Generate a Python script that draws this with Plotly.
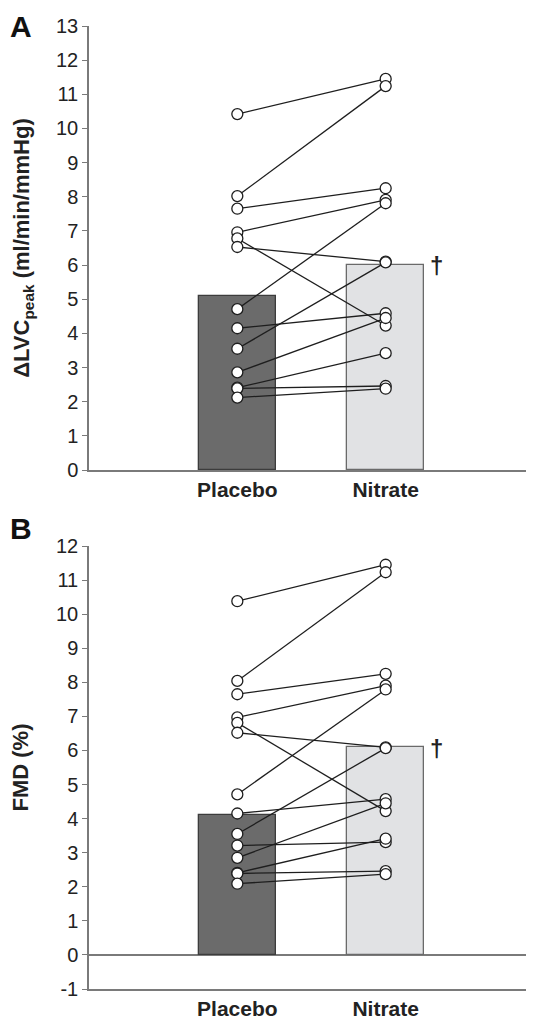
import plotly.graph_objects as go

# page has an 8px body margin, so the figure is drawn 8px smaller and offset
OFF = 8
W, H = 534 - OFF, 1020 - OFF

categories = ["Placebo", "Nitrate"]

# Panel A: ΔLVCpeak (ml/min/mmHg)
bar_a = [5.10, 6.01]
placebo_a = [10.42, 8.02, 7.65, 6.96, 6.78, 6.53, 4.71, 4.15, 3.55, 2.86, 2.41, 2.39, 2.12]
nitrate_a = [11.45, 11.24, 8.25, 7.91, 4.23, 6.10, 7.81, 4.59, 6.08, 4.45, 3.42, 2.46, 2.38]

# Panel B: FMD (%)
bar_b = [4.11, 6.09]
placebo_b = [10.38, 8.04, 7.65, 6.97, 6.81, 6.52, 4.71, 4.15, 3.55, 3.21, 2.85, 2.41, 2.39, 2.09]
nitrate_b = [11.45, 11.23, 8.25, 7.90, 4.22, 6.09, 7.79, 4.57, 6.07, 3.31, 4.45, 3.41, 2.46, 2.37]

yticks_a = list(range(0, 14))
yticks_b = list(range(-1, 13))
yticklabels_b = [str(v) for v in yticks_b]

FONT = "Liberation Sans, Arial, Helvetica, sans-serif"
AXC = "#7a7a7a"
TXT = "#222222"
bar_fill = ["#6b6b6b", "#e1e2e4"]
bar_line = ["#3c3c3c", "#6a6a6a"]

def py(p):
    return 1 - (p - OFF) / H

def px(p):
    return (p - OFF) / W

fig = go.Figure()

def add_panel(bars, plc, nit, xa, ya):
    fig.add_trace(go.Bar(x=[0, 1], y=bars, width=0.515,
                         marker=dict(color=bar_fill, line=dict(color=bar_line, width=1.3)),
                         xaxis=xa, yaxis=ya, showlegend=False))
    lx, ly = [], []
    for p, n in zip(plc, nit):
        lx += [0, 1, None]
        ly += [p, n, None]
    fig.add_trace(go.Scatter(x=lx, y=ly, mode="lines",
                             line=dict(color="#1e1e1e", width=1.3),
                             xaxis=xa, yaxis=ya, showlegend=False, connectgaps=False))
    fig.add_trace(go.Scatter(x=[0] * len(plc) + [1] * len(nit), y=list(plc) + list(nit),
                             mode="markers",
                             marker=dict(size=11, color="white", line=dict(color="#1e1e1e", width=1.3)),
                             xaxis=xa, yaxis=ya, showlegend=False))

add_panel(bar_a, placebo_a, nitrate_a, "x", "y")
add_panel(bar_b, placebo_b, nitrate_b, "x2", "y2")

xdom = [px(89), 1.0]
common_x = dict(range=[-1, 2], domain=xdom, showline=True, linecolor=AXC, linewidth=1.5,
                tickvals=[0, 1], ticktext=categories, ticks="", showgrid=False, zeroline=False,
                automargin=False,
                tickfont=dict(family=FONT, size=21, color=TXT, weight="bold"), fixedrange=True)
common_y = dict(showline=True, linecolor=AXC, linewidth=1.5, ticks="outside", ticklen=5,
                tickcolor=AXC, tickwidth=1.3, showgrid=False, automargin=False,
                tickfont=dict(family=FONT, size=20, color=TXT),
                title_font=dict(family=FONT, size=22, color=TXT, weight="bold"), fixedrange=True)

fig.update_layout(
    width=W, height=H, margin=dict(l=0, r=0, t=0, b=0),
    paper_bgcolor="white", plot_bgcolor="white", bargap=0,
    xaxis=dict(anchor="y", **common_x),
    xaxis2=dict(anchor="y2", **common_x),
    yaxis=dict(domain=[py(470), py(26)], range=[0, 13], tickvals=yticks_a, anchor="x",
               zeroline=False,
               title=dict(text="ΔLVC<sub>peak</sub> (ml/min/mmHg)", standoff=20), **common_y),
    yaxis2=dict(domain=[py(989), py(546)], range=[-1, 12], tickvals=yticks_b,
                ticktext=yticklabels_b, anchor="x2",
                zeroline=True, zerolinecolor=AXC, zerolinewidth=1.5,
                title=dict(text="FMD (%)", standoff=24), **common_y),
    annotations=[
        dict(text="<b>A</b>", x=0, y=1, xref="paper", yref="paper", xanchor="left", yanchor="top",
             showarrow=False, font=dict(family=FONT, size=30, color="#111")),
        dict(text="<b>B</b>", x=0, y=py(510), xref="paper", yref="paper", xanchor="left", yanchor="top",
             showarrow=False, font=dict(family=FONT, size=30, color="#111")),
        dict(text="<b>†</b>", x=1.34, y=6.0, xref="x", yref="y", showarrow=False,
             font=dict(family=FONT, size=24, color="#222")),
        dict(text="<b>†</b>", x=1.34, y=6.05, xref="x2", yref="y2", showarrow=False,
             font=dict(family=FONT, size=24, color="#222")),
    ],
)

fig.write_html("out.html")
